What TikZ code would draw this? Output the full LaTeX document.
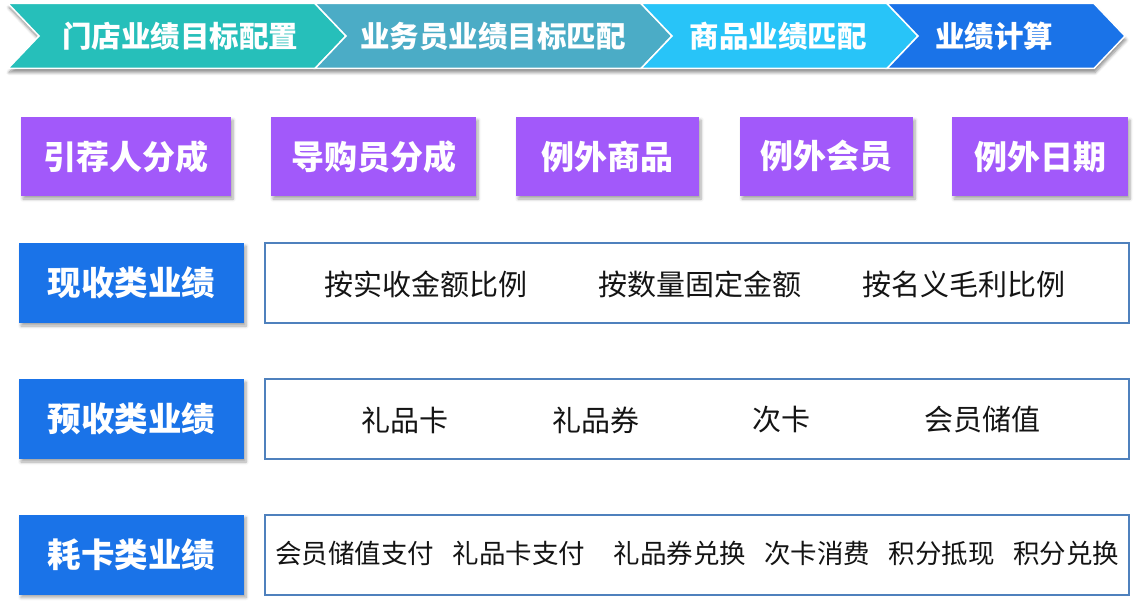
\documentclass[tikz,border=0pt]{standalone}
\usepackage{fontspec}
\setmainfont{Noto Sans CJK SC}
\usetikzlibrary{shadows.blur}
\definecolor{cteal}{RGB}{38,191,186}
\definecolor{csteel}{RGB}{75,172,198}
\definecolor{ccyan}{RGB}{40,196,248}
\definecolor{cblue}{RGB}{26,115,232}
\definecolor{cpurple}{RGB}{162,89,250}
\definecolor{cborder}{RGB}{79,129,189}
\definecolor{ctext}{RGB}{20,20,20}
\begin{document}
\begin{tikzpicture}[x=1pt,y=-1pt,
  shd/.style={blur shadow={shadow xshift=2pt,shadow yshift=-3pt,shadow blur steps=6,shadow opacity=35,shadow blur radius=3pt}},
  chev/.style={draw=white,line width=1.5pt,line join=miter},
  chevtext/.style={text=white,font=\bfseries\fontsize{29.5}{30}\selectfont,inner sep=0pt},
  pbox/.style={fill=cpurple,shd,inner sep=0pt,minimum height=79pt,text=white,font=\bfseries\fontsize{33}{34}\selectfont},
  bbox/.style={fill=cblue,shd,inner sep=0pt,minimum width=225pt,minimum height=80pt,text=white,font=\bfseries\fontsize{33.5}{35}\selectfont},
  wbox/.style={draw=cborder,line width=2pt,fill=white,inner sep=0pt,minimum width=864pt,minimum height=80pt},
  itemA/.style={text=ctext,inner sep=0pt,font=\fontsize{29}{30}\selectfont},
  itemB/.style={text=ctext,inner sep=0pt,font=\fontsize{26.5}{28}\selectfont}
]
\useasboundingbox (0,0) rectangle (1135,604);
% shadow of the whole bar
\path[fill=white,blur shadow={shadow xshift=1pt,shadow yshift=-4pt,shadow blur steps=6,shadow opacity=45,shadow blur radius=3pt}]
  (8,3.5) -- (1094,3.5) -- (1125,36) -- (1094,68.5) -- (8,68.5) -- (39,36) -- cycle;
% chevrons
\path[chev,fill=cteal]  (8,3.5) -- (315,3.5) -- (346,36) -- (315,68.5) -- (8,68.5) -- (39,36) -- cycle;
\path[chev,fill=csteel] (315,3.5) -- (641,3.5) -- (672,36) -- (641,68.5) -- (315,68.5) -- (346,36) -- cycle;
\path[chev,fill=ccyan]  (641,3.5) -- (887,3.5) -- (918,36) -- (887,68.5) -- (641,68.5) -- (672,36) -- cycle;
\path[chev,fill=cblue]  (887,3.5) -- (1094,3.5) -- (1125,36) -- (1094,68.5) -- (887,68.5) -- (918,36) -- cycle;
\node[chevtext] (s1) at (180,36) {门店业绩目标配置};
\node[chevtext] (s2) at (493,36) {业务员业绩目标匹配};
\node[chevtext] (s3) at (778,36) {商品业绩匹配};
\node[chevtext] (s4) at (994,36) {业绩计算};
% purple boxes
\node[pbox,minimum width=210pt] (p1) at (126,156.5) {引荐人分成};
\node[pbox,minimum width=205pt] (p2) at (373.5,156.5) {导购员分成};
\node[pbox,minimum width=183pt] (p3) at (607.5,156.5) {例外商品};
\node[pbox,minimum width=173pt] (p4) at (826.5,156.5) {例外会员};
\node[pbox,minimum width=176pt] (p5) at (1040,156.5) {例外日期};
% blue boxes
\node[bbox] (b1) at (131.5,283) {现收类业绩};
\node[bbox] (b2) at (131.5,419) {预收类业绩};
\node[bbox] (b3) at (131.5,554.5) {耗卡类业绩};
% white boxes
\node[wbox] (w1) at (697,283) {};
\node[wbox] (w2) at (697,419) {};
\node[wbox] (w3) at (697,554.5) {};
% row 1 items
\node[itemA] (r1a) at (426,284) {按实收金额比例};
\node[itemA] (r1b) at (700,284) {按数量固定金额};
\node[itemA] (r1c) at (964,284) {按名义毛利比例};
% row 2 items
\node[itemA] (r2a) at (405,420) {礼品卡};
\node[itemA] (r2b) at (596,420) {礼品券};
\node[itemA] (r2c) at (781,420) {次卡};
\node[itemA] (r2d) at (982,420) {会员储值};
% row 3 items
\node[itemB] (r3a) at (354.5,553) {会员储值支付};
\node[itemB] (r3b) at (519,553) {礼品卡支付};
\node[itemB] (r3c) at (680,553) {礼品券兑换};
\node[itemB] (r3d) at (817,553) {次卡消费};
\node[itemB] (r3e) at (941.5,553) {积分抵现};
\node[itemB] (r3f) at (1066,553) {积分兑换};
\end{tikzpicture}
\end{document}
